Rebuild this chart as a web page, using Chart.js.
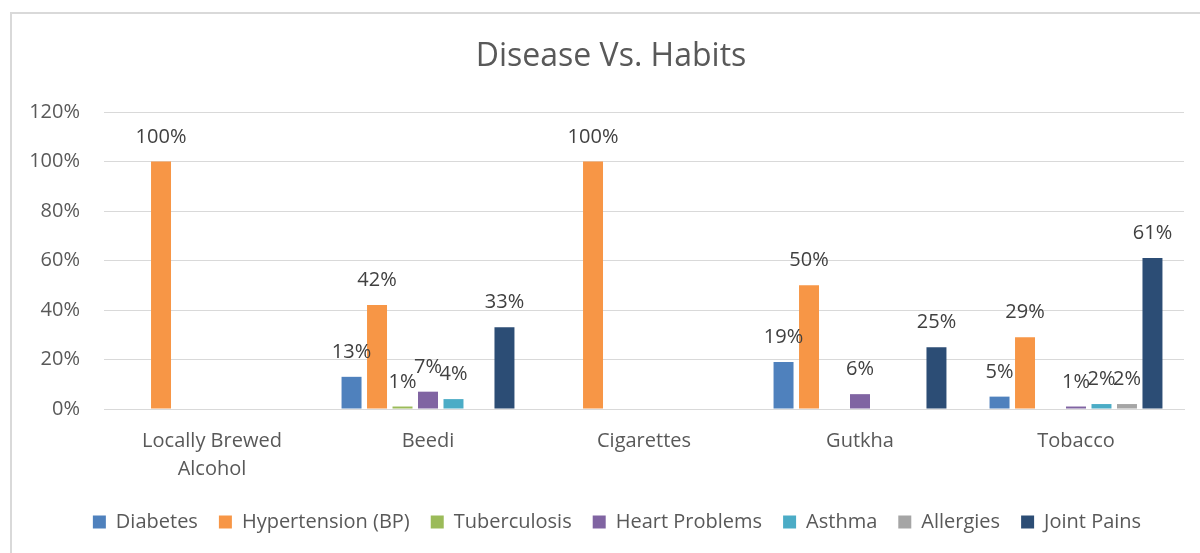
<!DOCTYPE html>
<html>
<head>
<meta charset="utf-8">
<script src="https://cdn.jsdelivr.net/npm/chart.js@4.4.1/dist/chart.umd.min.js"></script>
<style>
  html, body { margin: 0; padding: 0; background: #fff; }
  #wrap { width: 1200px; height: 553px; position: relative; }
</style>
</head>
<body>
<div id="wrap"><canvas id="chart" width="1200" height="553"></canvas></div>
<script>
const categories = [['Locally Brewed', 'Alcohol'], 'Beedi', 'Cigarettes', 'Gutkha', 'Tobacco'];

const diabetes     = [0, 13, 0, 19, 5];
const hypertension = [100, 42, 100, 50, 29];
const tuberculosis = [0, 1, 0, 0, 0];
const heart        = [0, 7, 0, 6, 1];
const asthma       = [0, 4, 0, 0, 2];
const allergies    = [0, 0, 0, 0, 2];
const jointPains   = [0, 33, 0, 25, 61];

const yTicks = [0, 20, 40, 60, 80, 100, 120];

const font = 'Open Sans';

// outer frame like the office chart border
const framePlugin = {
  id: 'frame',
  beforeDraw(chart) {
    const ctx = chart.ctx;
    ctx.save();
    ctx.strokeStyle = '#d9d9d9';
    ctx.lineWidth = 2;
    ctx.strokeRect(11, 13, 1400, 700);
    ctx.restore();
  }
};

// legend and title sit a bit right of the canvas centre in the original
const nudge = {
  id: 'nudge',
  afterLayout(chart) {
    chart.legend.left += 12;
    chart.legend.right += 12;
    chart.titleBlock.left += 6;
    chart.titleBlock.right += 6;
  }
};

// value labels above each non-zero bar
const barLabels = {
  id: 'barLabels',
  afterDatasetsDraw(chart) {
    const ctx = chart.ctx;
    ctx.save();
    ctx.font = '20px "' + font + '"';
    ctx.fillStyle = '#404040';
    ctx.textAlign = 'center';
    ctx.textBaseline = 'alphabetic';
    chart.data.datasets.forEach((ds, i) => {
      chart.getDatasetMeta(i).data.forEach((bar, j) => {
        const v = ds.data[j];
        if (!v) return;
        ctx.fillText(v + '%', bar.x, bar.y - 19);
      });
    });
    ctx.restore();
  }
};

const series = [
  ['Diabetes', diabetes, '#4f81bd'],
  ['Hypertension (BP)', hypertension, '#f79646'],
  ['Tuberculosis', tuberculosis, '#9bbb59'],
  ['Heart Problems', heart, '#8064a2'],
  ['Asthma', asthma, '#4bacc6'],
  ['Allergies', allergies, '#a5a5a5'],
  ['Joint Pains', jointPains, '#2c4d75']
];

new Chart(document.getElementById('chart'), {
  type: 'bar',
  data: {
    labels: categories,
    datasets: series.map(s => ({
      label: s[0],
      data: s[1],
      backgroundColor: s[2],
      borderWidth: 0,
      categoryPercentage: 0.826,
      barPercentage: 0.784
    }))
  },
  options: {
    responsive: false,
    animation: false,
    layout: { padding: { left: 26, right: 16, top: 0, bottom: 11 } },
    plugins: {
      title: {
        display: true,
        text: 'Disease Vs. Habits',
        color: '#595959',
        font: { family: font, size: 32, weight: 'normal' },
        padding: { top: 38, bottom: 35.6 }
      },
      legend: {
        position: 'bottom',
        labels: {
          boxWidth: 13,
          boxHeight: 13,
          padding: 21,
          color: '#595959',
          font: { family: font, size: 20 }
        }
      },
      tooltip: { enabled: false }
    },
    scales: {
      x: {
        grid: { display: false, drawTicks: false },
        border: { color: '#d9d9d9' },
        ticks: {
          color: '#595959',
          padding: 18,
          font: { family: font, size: 20, lineHeight: 1.4 },
          maxRotation: 0
        },
        afterFit(scale) { scale.height = 82; }
      },
      y: {
        min: 0,
        max: 120,
        grid: { color: '#d9d9d9', drawTicks: false },
        border: { display: false },
        ticks: {
          stepSize: 20,
          padding: 24,
          color: '#595959',
          font: { family: font, size: 20 },
          callback: v => yTicks.includes(v) ? v + '%' : ''
        },
        afterFit(scale) { scale.width = 78; }
      }
    }
  },
  plugins: [framePlugin, nudge, barLabels]
});
</script>
</body>
</html>
